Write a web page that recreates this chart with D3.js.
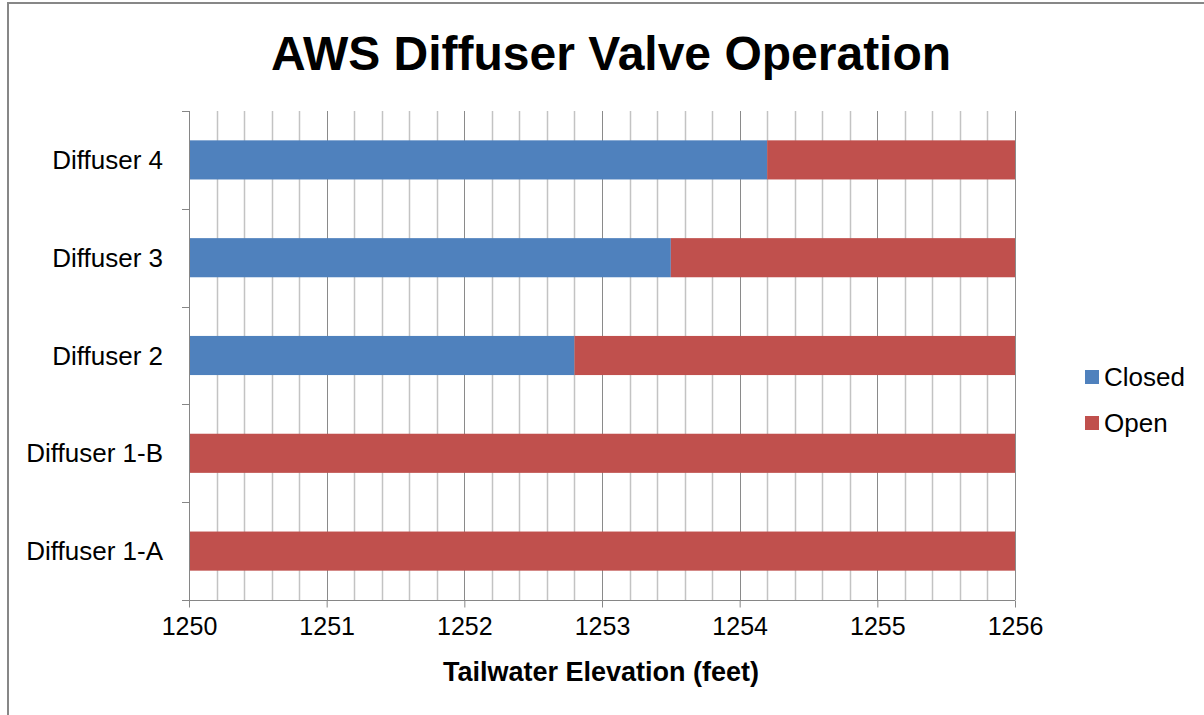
<!DOCTYPE html>
<html>
<head>
<meta charset="utf-8">
<script src="https://cdn.jsdelivr.net/npm/d3@7"></script>
<style>
    body { margin: 0; background: #fff; }
    svg { display: block; font-family: "Liberation Sans", Arial, sans-serif; }
</style>
</head>
<body>
<svg id="chart" width="1204" height="715"></svg>
<script>
var categories = ["Diffuser 4", "Diffuser 3", "Diffuser 2", "Diffuser 1-B", "Diffuser 1-A"];
var closedEnd = [1254.2, 1253.5, 1252.8, 1250, 1250];
var openEnd = [1256, 1256, 1256, 1256, 1256];
var seriesNames = ["Closed", "Open"];
var xTicks = [1250, 1251, 1252, 1253, 1254, 1255, 1256];
var xMin = 1250;

var colors = { Closed: "#4f81bd", Open: "#c0504d" };

function drawChart() {
    var svg = d3.select("#chart");

    //outer frame of the chart object, runs off the page on right and bottom
    svg.append("path")
        .attr("d", "M8,716 L8,3 L1206,3")
        .attr("fill", "none")
        .attr("stroke", "#878787")
        .attr("stroke-width", 2);

    var left = 189, right = 1015, plotTop = 111, plotBottom = 600;

    var x = d3.scaleLinear().domain([1250, 1256]).range([left, right]);
    var y = d3.scaleBand().domain(categories).range([plotTop, plotBottom]).paddingInner(0.6).paddingOuter(0.3);
    var yb = d3.scaleBand().domain(categories).range([plotTop, plotBottom]);

    svg.append("text")
        .attr("x", 611)
        .attr("y", 70)
        .attr("text-anchor", "middle")
        .attr("font-size", 48)
        .attr("font-weight", "bold")
        .text("AWS Diffuser Valve Operation");

    // minor gridlines every 0.2 ft
    var minor = d3.range(0, 31).map(function (i) { return 1250 + i * 0.2; })
        .filter(function (v, i) { return i % 5 !== 0; });

    svg.append("g").selectAll("line")
        .data(minor)
        .enter()
        .append("line")
        .attr("x1", function (d) { return Math.round(x(d)) + 0.5; })
        .attr("x2", function (d) { return Math.round(x(d)) + 0.5; })
        .attr("y1", plotTop)
        .attr("y2", plotBottom)
        .attr("stroke", "#c3c3c3")
        .attr("stroke-width", 1.5);

    svg.append("g").selectAll("line")
        .data(xTicks.slice(1))
        .enter()
        .append("line")
        .attr("x1", function (d) { return Math.round(x(d)) + 0.5; })
        .attr("x2", function (d) { return Math.round(x(d)) + 0.5; })
        .attr("y1", plotTop)
        .attr("y2", plotBottom)
        .attr("stroke", "#8a8a8a")
        .attr("stroke-width", 1);

    // bars
    var rows = categories.map(function (c, i) {
        return { cat: c, segs: [
            { name: "Closed", from: xMin, to: closedEnd[i] },
            { name: "Open", from: closedEnd[i], to: openEnd[i] }
        ] };
    });

    var rowg = svg.append("g").selectAll("g")
        .data(rows)
        .enter()
        .append("g");

    rowg.selectAll("rect")
        .data(function (d) { return d.segs.filter(function (s) { return s.to > s.from; }).map(function (s) { s.cat = d.cat; return s; }); })
        .enter()
        .append("rect")
        .attr("x", function (d) { return x(d.from); })
        .attr("width", function (d) { return x(d.to) - x(d.from); })
        .attr("y", function (d) { return y(d.cat); })
        .attr("height", y.bandwidth())
        .attr("fill", function (d) { return colors[d.name]; });

    // axes
    var xAxis = d3.axisBottom(x).tickValues(xTicks).tickFormat(d3.format("d")).tickSize(7).tickPadding(10);
    var xg = svg.append("g")
        .attr("transform", "translate(0," + (plotBottom + 0.5) + ")")
        .call(xAxis);
    xg.select(".domain").remove();
    xg.append("line")
        .attr("x1", left - 7)
        .attr("x2", right)
        .attr("stroke", "#868686");
    xg.selectAll(".tick line").attr("stroke", "#868686");
    xg.selectAll(".tick text")
        .attr("font-size", 25)
        .attr("font-family", "Liberation Sans, Arial, sans-serif")
        .attr("fill", "#000");

    var yg = svg.append("g");
    yg.append("line")
        .attr("x1", left + 0.5)
        .attr("x2", left + 0.5)
        .attr("y1", plotTop)
        .attr("y2", plotBottom)
        .attr("stroke", "#868686");
    yg.selectAll(".ytick")
        .data(categories)
        .enter()
        .append("line")
        .attr("x1", left - 7)
        .attr("x2", left)
        .attr("y1", function (d) { return Math.round(yb(d)) + 0.5; })
        .attr("y2", function (d) { return Math.round(yb(d)) + 0.5; })
        .attr("stroke", "#868686");
    yg.selectAll(".ylabel")
        .data(categories)
        .enter()
        .append("text")
        .attr("x", 163)
        .attr("y", function (d) { return yb(d) + yb.bandwidth() / 2; })
        .attr("dy", "0.35em")
        .attr("text-anchor", "end")
        .attr("font-size", 26)
        .text(function (d) { return d; });

    svg.append("text")
        .attr("x", 601)
        .attr("y", 681)
        .attr("text-anchor", "middle")
        .attr("font-size", 27)
        .attr("font-weight", "bold")
        .text("Tailwater Elevation (feet)");

    // legend
    var leg = svg.append("g").selectAll("g")
        .data(seriesNames)
        .enter()
        .append("g")
        .attr("transform", function (d, i) { return "translate(1085," + (370 + i * 46) + ")"; });
    leg.append("rect")
        .attr("width", 14)
        .attr("height", 14)
        .attr("fill", function (d) { return colors[d]; });
    leg.append("text")
        .attr("x", 19)
        .attr("y", 7)
        .attr("dy", "0.35em")
        .attr("font-size", 26)
        .text(function (d) { return d; });
}

drawChart();
</script>
</body>
</html>
